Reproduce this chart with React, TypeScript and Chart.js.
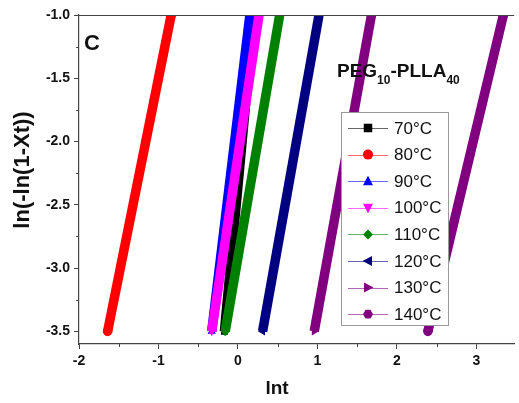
import React, { useEffect, useRef } from "react";
import { Chart, registerables } from "chart.js";

Chart.register(...registerables);

// ---- data (lnt values at the ends of each fitted line) ----
const temps = ["70°C", "80°C", "90°C", "100°C", "110°C", "120°C", "130°C", "140°C"];
const yValues = [-3.5, -1.0];
const lnt70 = [-0.17, 0.2];
const lnt80 = [-1.64, -0.84];
const lnt90 = [-0.33, 0.15];
const lnt100 = [-0.33, 0.265];
const lnt110 = [-0.16, 0.525];
const lnt120 = [0.31, 1.02];
const lnt130 = [0.96, 1.68];
const lnt140 = [2.39, 3.34];
const xTicks = [-2, -1, 0, 1, 2, 3];
const yTicks = [-1.0, -1.5, -2.0, -2.5, -3.0, -3.5];
const xMinor = [-1.5, -0.5, 0.5, 1.5, 2.5];
const yMinor = [-1.25, -1.75, -2.25, -2.75, -3.25];

const seriesX = [lnt70, lnt80, lnt90, lnt100, lnt110, lnt120, lnt130, lnt140];
const colors = ["#000000", "#ff0000", "#0000ff", "#ff00ff", "#008000", "#000080", "#800080", "#800080"];
const markers = ["square", "circle", "triUp", "triDown", "diamond", "triLeft", "triRight", "hexagon"];

const chartJsStyle: Record<string, [string, number]> = {
  square: ["rect", 0],
  circle: ["circle", 0],
  triUp: ["triangle", 0],
  triDown: ["triangle", 180],
  diamond: ["rectRot", 0],
  triLeft: ["triangle", -90],
  triRight: ["triangle", 90],
  hexagon: ["circle", 0],
};

const FONT = "'Liberation Sans', Arial, sans-serif";

function drawMarker(ctx: CanvasRenderingContext2D, kind: string, x: number, y: number, r: number, color: string) {
  ctx.save();
  ctx.fillStyle = color;
  ctx.beginPath();
  const poly = (pts: number[][]) => {
    ctx.moveTo(x + pts[0][0], y + pts[0][1]);
    for (let i = 1; i < pts.length; i++) ctx.lineTo(x + pts[i][0], y + pts[i][1]);
    ctx.closePath();
  };
  if (kind === "square") {
    ctx.rect(x - r * 0.85, y - r * 0.85, r * 1.7, r * 1.7);
  } else if (kind === "circle") {
    ctx.arc(x, y, r, 0, Math.PI * 2);
  } else if (kind === "triUp") {
    poly([[0, -r * 1.1], [r, r * 0.8], [-r, r * 0.8]]);
  } else if (kind === "triDown") {
    poly([[0, r * 1.1], [r, -r * 0.8], [-r, -r * 0.8]]);
  } else if (kind === "triLeft") {
    poly([[-r * 1.1, 0], [r * 0.8, -r], [r * 0.8, r]]);
  } else if (kind === "triRight") {
    poly([[r * 1.1, 0], [-r * 0.8, -r], [-r * 0.8, r]]);
  } else if (kind === "diamond") {
    poly([[0, -r], [r, 0], [0, r], [-r, 0]]);
  } else if (kind === "hexagon") {
    const pts: number[][] = [];
    for (let i = 0; i < 6; i++) {
      const a = (Math.PI / 3) * i;
      pts.push([r * Math.cos(a), r * Math.sin(a)]);
    }
    poly(pts);
  }
  ctx.fill();
  ctx.restore();
}

const decorPlugin = {
  id: "decor",
  afterDraw(chart: any) {
    const ctx: CanvasRenderingContext2D = chart.ctx;
    const area = chart.chartArea;
    const xs = chart.scales.x;
    const ys = chart.scales.y;
    ctx.save();
    // top frame line
    ctx.strokeStyle = "#444";
    ctx.lineWidth = 1.2;
    ctx.beginPath();
    ctx.moveTo(area.left, area.top + 0.5);
    ctx.lineTo(area.right, area.top + 0.5);
    ctx.stroke();
    // minor ticks
    ctx.lineWidth = 1;
    ctx.beginPath();
    xMinor.forEach((v) => {
      const px = Math.round(xs.getPixelForValue(v)) + 0.5;
      ctx.moveTo(px, area.bottom);
      ctx.lineTo(px, area.bottom + 3);
    });
    yMinor.forEach((v) => {
      const py = Math.round(ys.getPixelForValue(v)) + 0.5;
      ctx.moveTo(area.left, py);
      ctx.lineTo(area.left - 3, py);
    });
    ctx.stroke();

    ctx.fillStyle = "#111";
    // axis titles
    ctx.font = `bold 22px ${FONT}`;
    ctx.textAlign = "center";
    ctx.textBaseline = "middle";
    ctx.save();
    ctx.translate(23, 170);
    ctx.rotate(-Math.PI / 2);
    ctx.fillText("ln(-ln(1-Xt))", 0, 0);
    ctx.restore();
    ctx.font = `bold 19px ${FONT}`;
    ctx.fillText("lnt", 277, 389);

    // panel letter
    ctx.textAlign = "left";
    ctx.textBaseline = "alphabetic";
    ctx.font = `bold 22px ${FONT}`;
    ctx.fillText("C", 84, 50);

    // sample title with subscripts
    let x = 337;
    const big = `bold 19px ${FONT}`;
    const small = `bold 12px ${FONT}`;
    const parts: [string, boolean][] = [["PEG", false], ["10", true], ["-PLLA", false], ["40", true]];
    parts.forEach(([t, sub]) => {
      ctx.font = sub ? small : big;
      ctx.fillText(t, x, sub ? 84 : 77);
      x += ctx.measureText(t).width;
    });

    // legend
    ctx.strokeStyle = "#999";
    ctx.lineWidth = 1;
    ctx.fillStyle = "#fff";
    ctx.fillRect(341.5, 112.5, 107, 213);
    ctx.strokeRect(341.5, 112.5, 107, 213);
    ctx.font = `17px ${FONT}`;
    ctx.textBaseline = "middle";
    temps.forEach((t, i) => {
      const cy = 128 + i * 26.6;
      ctx.strokeStyle = colors[i];
      ctx.globalAlpha = 0.6;
      ctx.lineWidth = 1;
      ctx.beginPath();
      ctx.moveTo(348, Math.round(cy) + 0.5);
      ctx.lineTo(388, Math.round(cy) + 0.5);
      ctx.stroke();
      ctx.globalAlpha = 1;
      drawMarker(ctx, markers[i], 368, cy, 5, colors[i]);
      ctx.fillStyle = "#111";
      ctx.fillText(t, 394, cy + 1);
    });
    ctx.restore();
  },
};

export default function App() {
  const ref = useRef<HTMLCanvasElement | null>(null);
  useEffect(() => {
    document.body.style.margin = "0";
    const canvas = ref.current;
    if (!canvas) return;
    const datasets = seriesX.map((xv, i) => {
      const [ps, rot] = chartJsStyle[markers[i]];
      return {
        label: temps[i],
        data: xv.map((v, j) => ({ x: v, y: yValues[j] })),
        borderColor: colors[i],
        backgroundColor: colors[i],
        borderWidth: 9.5,
        pointRadius: 4.8,
        pointStyle: ps,
        pointRotation: rot,
        pointBorderWidth: 0,
        pointBackgroundColor: colors[i],
        showLine: true,
        clip: 0,
        order: -i,
      };
    });
    const chart = new Chart(canvas, {
      type: "scatter",
      data: { datasets: datasets as any },
      options: {
        animation: false,
        responsive: false,
        devicePixelRatio: 1,
        layout: { padding: { top: 15, left: 0, right: 0, bottom: 0 } },
        plugins: { legend: { display: false }, tooltip: { enabled: false } },
        scales: {
          x: {
            type: "linear",
            min: -2,
            max: 3.476,
            afterBuildTicks: (s: any) => {
              s.ticks = xTicks.map((v) => ({ value: v }));
            },
            afterFit: (s: any) => {
              s.height = 59;
            },
            grid: { drawOnChartArea: false, tickLength: 5, color: "#444" },
            border: { color: "#444", width: 1.2 },
            ticks: {
              font: { family: FONT, size: 14, weight: "bold" },
              color: "#111",
              padding: 4,
              maxRotation: 0,
              autoSkip: false,
              callback: (v: any) => String(v),
            },
          },
          y: {
            type: "linear",
            min: -3.6,
            max: -1.0,
            afterBuildTicks: (s: any) => {
              s.ticks = yTicks.map((v) => ({ value: v }));
            },
            afterFit: (s: any) => {
              s.width = 79;
            },
            grid: { drawOnChartArea: false, tickLength: 5, color: "#444" },
            border: { color: "#444", width: 1.2 },
            ticks: {
              font: { family: FONT, size: 14, weight: "bold" },
              color: "#111",
              padding: 4,
              autoSkip: false,
              callback: (v: any) => Number(v).toFixed(1),
            },
          },
        },
      },
      plugins: [decorPlugin],
    });
    return () => chart.destroy();
  }, []);
  return (
    <div style={{ width: 519, height: 403 }}>
      <canvas ref={ref} width={519} height={403} />
    </div>
  );
}
